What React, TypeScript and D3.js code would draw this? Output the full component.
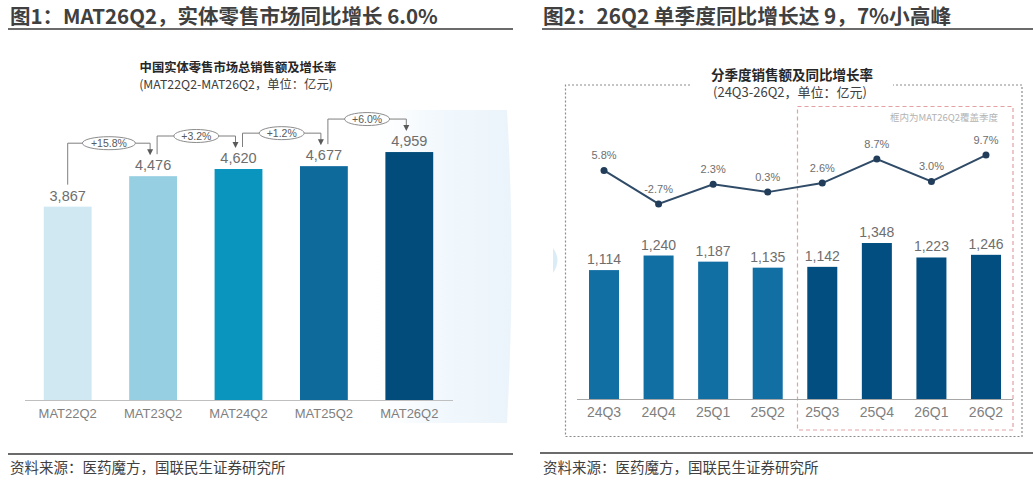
import React from 'react';
import * as d3 from 'd3';

const leftCategories = ['MAT22Q2', 'MAT23Q2', 'MAT24Q2', 'MAT25Q2', 'MAT26Q2'];
const leftValues = [3867, 4476, 4620, 4677, 4959];
const leftGrowth = ['+15.8%', '+3.2%', '+1.2%', '+6.0%'];
const leftColors = ['#cfe8f2', '#96cee2', '#0a95bf', '#0f6a9c', '#024c7b'];

const rightCategories = ['24Q3', '24Q4', '25Q1', '25Q2', '25Q3', '25Q4', '26Q1', '26Q2'];
const rightValues = [1114, 1240, 1187, 1135, 1142, 1348, 1223, 1246];
const rightGrowth = [5.8, -2.7, 2.3, 0.3, 2.6, 8.7, 3.0, 9.7];
const rightColors = ['#116fa4', '#116fa4', '#116fa4', '#116fa4', '#024e80', '#024e80', '#024e80', '#024e80'];

const CJK = '"Noto Sans CJK SC", "Noto Sans", sans-serif';
const NUM = '"Liberation Sans", Arial, sans-serif';

const fmt = d3.format(',');

export default function App() {
  // Left chart scales
  const lx = d3.scaleBand<string>().domain(leftCategories).range([25, 452]).paddingInner(0.44).paddingOuter(0.22);
  const ly = d3.scaleLinear().domain([0, 5000]).range([400, 150]);
  const lc = (c: string) => (lx(c) as number) + lx.bandwidth() / 2;

  // Right chart scales
  const rx = d3.scaleBand<string>().domain(rightCategories).range([577, 1013]).paddingInner(0.45).paddingOuter(0.22);
  const ry = d3.scaleLinear().domain([0, 1400]).range([399, 237]);
  const rgy = d3.scaleLinear().domain([-5, 12]).range([213, 146]);
  const rc = (c: string) => (rx(c) as number) + rx.bandwidth() / 2;

  const line = d3
    .line<number>()
    .x((_, i) => rc(rightCategories[i]))
    .y((d) => rgy(d));

  return (
    <div style={{ position: 'absolute', left: 0, top: 0 }}>
      <svg width={1033} height={482} style={{ display: 'block', background: '#fff' }}>
        <defs>
          <linearGradient id="glow" x1="0" x2="1" y1="0" y2="0">
            <stop offset="0" stopColor="#ffffff" stopOpacity="0" />
            <stop offset="0.45" stopColor="#f3f9fd" />
            <stop offset="1" stopColor="#ebf4fb" />
          </linearGradient>
        </defs>

        {/* ===== LEFT PANEL ===== */}
        <text x={10} y={23.5} fontFamily={CJK} fontWeight={700} fontSize={20.5} fill="#404040">
          图1：MAT26Q2，实体零售市场同比增长 6.0%
        </text>
        <line x1={8} x2={513} y1={29} y2={29} stroke="#6b6b6b" strokeWidth={2} />

        <path d="M360,110 L507,110 Q516,260 507,423 L360,423 Z" fill="url(#glow)" />

        <text x={238} y={71.5} textAnchor="middle" fontFamily={CJK} fontWeight={700} fontSize={12.3} fill="#262626">
          中国实体零售市场总销售额及增长率
        </text>
        <text x={236} y={89} textAnchor="middle" fontFamily={CJK} fontSize={12.3} fill="#404040">
          (MAT22Q2-MAT26Q2，单位：亿元)
        </text>

        {leftCategories.map((c, i) => (
          <g key={c}>
            <rect x={lx(c)} y={ly(leftValues[i])} width={lx.bandwidth()} height={ly(0) - ly(leftValues[i])} fill={leftColors[i]} />
            <text x={lc(c)} y={ly(leftValues[i]) - 6} textAnchor="middle" fontFamily={NUM} fontSize={14.5} fill="#6e6e6e">
              {fmt(leftValues[i])}
            </text>
            <text x={lc(c)} y={418} textAnchor="middle" fontFamily={NUM} fontSize={13} fill="#7f7f7f">
              {c}
            </text>
          </g>
        ))}
        <line x1={25} x2={453} y1={400.5} y2={400.5} stroke="#bfbfbf" strokeWidth={1.2} />

        {leftGrowth.map((g, i) => {
          const x0 = lc(leftCategories[i]) + (i === 0 ? 0 : 4);
          const x1 = lc(leftCategories[i + 1]) - 3;
          const y0 = ly(leftValues[i]) - 22;
          const yh = ly(leftValues[i + 1]) - 33;
          const yt = ly(leftValues[i + 1]) - 21;
          const mx = (x0 + x1) / 2;
          const rxE = g.length > 5 ? 26.5 : 22.5;
          return (
            <g key={g}>
              <path d={`M${x0},${y0} L${x0},${yh} L${x1},${yh} L${x1},${yt - 5}`} fill="none" stroke="#7f7f7f" strokeWidth={1} />
              <path d={`M${x1 - 3},${yt - 6} L${x1 + 3},${yt - 6} L${x1},${yt} Z`} fill="#595959" />
              <ellipse cx={mx} cy={yh} rx={rxE} ry={6.5} fill="#fff" stroke="#8c8c8c" strokeWidth={1} />
              <text x={mx} y={yh + 3.7} textAnchor="middle" fontFamily={NUM} fontSize={10.5} fill="#595959">
                {g}
              </text>
            </g>
          );
        })}

        <line x1={8} x2={513} y1={454} y2={454} stroke="#6b6b6b" strokeWidth={2} />
        <text x={10} y={473} fontFamily={CJK} fontSize={14.5} fill="#404040">
          资料来源：医药魔方，国联民生证券研究所
        </text>

        {/* ===== RIGHT PANEL ===== */}
        <text x={543} y={23.5} fontFamily={CJK} fontWeight={700} fontSize={20.7} fill="#404040">
          图2：26Q2 单季度同比增长达 9，7%小高峰
        </text>
        <line x1={542} x2={1033} y1={29} y2={29} stroke="#6b6b6b" strokeWidth={2} />

        <path d="M553,248 Q562,260 553,273 Z" fill="#dcecf7" />

        {/* outer dotted frame */}
        <path
          d="M690,85 L565.5,85 L565.5,436.5 L1022,436.5 L1022,85 L893,85"
          fill="none"
          stroke="#8c8c8c"
          strokeWidth={1.2}
          strokeDasharray="2,2"
        />
        {/* inner pink frame */}
        <rect x={797.5} y={106.5} width={215.5} height={323.5} fill="none" stroke="#e3a1a4" strokeWidth={1.2} strokeDasharray="4,3" />

        <text x={792} y={79.5} textAnchor="middle" fontFamily={CJK} fontWeight={700} fontSize={13.5} fill="#262626">
          分季度销售额及同比增长率
        </text>
        <text x={790} y={97} textAnchor="middle" fontFamily={CJK} fontSize={13} fill="#404040">
          (24Q3-26Q2，单位：亿元)
        </text>
        <text x={998} y={121} textAnchor="end" fontFamily={CJK} fontSize={9.5} fill="#b3b3b3">
          框内为MAT26Q2覆盖季度
        </text>

        {rightCategories.map((c, i) => (
          <g key={c}>
            <rect x={rx(c)} y={ry(rightValues[i])} width={rx.bandwidth()} height={ry(0) - ry(rightValues[i])} fill={rightColors[i]} />
            <text x={rc(c)} y={ry(rightValues[i]) - 6} textAnchor="middle" fontFamily={NUM} fontSize={14} fill="#6e6e6e">
              {fmt(rightValues[i])}
            </text>
            <text x={rc(c)} y={417} textAnchor="middle" fontFamily={NUM} fontSize={14} fill="#7f7f7f">
              {c}
            </text>
          </g>
        ))}
        <line x1={577} x2={1013} y1={399.5} y2={399.5} stroke="#a6a6a6" strokeWidth={1.2} />

        <path d={line(rightGrowth) as string} fill="none" stroke="#2f4b67" strokeWidth={2} />
        {rightGrowth.map((g, i) => (
          <g key={rightCategories[i]}>
            <circle cx={rc(rightCategories[i])} cy={rgy(g)} r={3.5} fill="#213d5a" />
            <text x={rc(rightCategories[i])} y={rgy(g) - 11} textAnchor="middle" fontFamily={NUM} fontSize={11} fill="#6e6e6e">
              {`${g.toFixed(1)}%`}
            </text>
          </g>
        ))}

        <line x1={540} x2={1033} y1={453} y2={453} stroke="#6b6b6b" strokeWidth={2} />
        <text x={543} y={473} fontFamily={CJK} fontSize={14.5} fill="#404040">
          资料来源：医药魔方，国联民生证券研究所
        </text>
      </svg>
    </div>
  );
}
